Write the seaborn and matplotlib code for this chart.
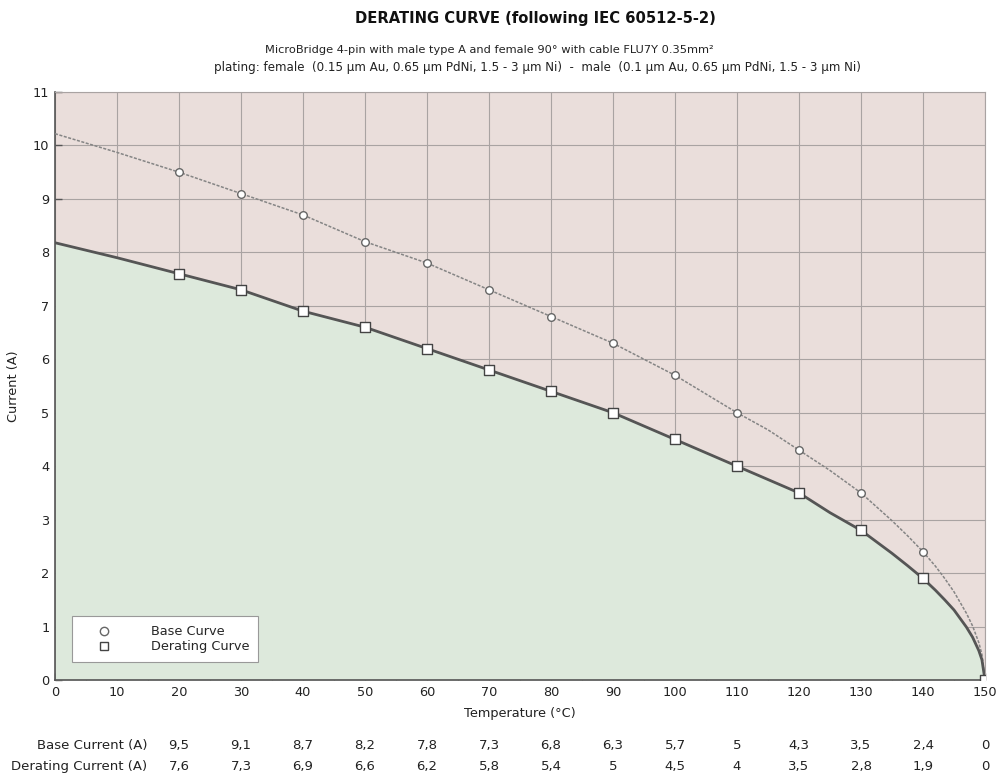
import matplotlib
matplotlib.use("Agg")
import matplotlib.pyplot as plt
import seaborn as sns
import pandas as pd
from matplotlib.lines import Line2D
from matplotlib.ticker import MultipleLocator
import matplotlib.transforms as mtransforms

# --- data ---
temps = [20, 30, 40, 50, 60, 70, 80, 90, 100, 110, 120, 130, 140, 150]
base_current = [9.5, 9.1, 8.7, 8.2, 7.8, 7.3, 6.8, 6.3, 5.7, 5.0, 4.3, 3.5, 2.4, 0.0]
derating_current = [7.6, 7.3, 6.9, 6.6, 6.2, 5.8, 5.4, 5.0, 4.5, 4.0, 3.5, 2.8, 1.9, 0.0]

# smooth curves
curve_t = [0, 10, 20, 30, 40, 50, 60, 70, 80, 90, 100, 110, 115, 120, 125, 130, 135, 137.5, 140, 142, 143.5, 145, 147, 148, 149, 149.5, 150]
curve_base = [10.22, 9.87, 9.5, 9.1, 8.7, 8.2, 7.8, 7.3, 6.8, 6.3, 5.7, 5.0, 4.68, 4.3, 3.92, 3.5, 2.98, 2.70, 2.4, 2.13, 1.90, 1.65, 1.25, 1.01, 0.70, 0.48, 0.0]
curve_der = [8.18, 7.9, 7.6, 7.3, 6.9, 6.6, 6.2, 5.8, 5.4, 5.0, 4.5, 4.0, 3.75, 3.5, 3.13, 2.8, 2.37, 2.14, 1.9, 1.68, 1.50, 1.31, 0.99, 0.80, 0.55, 0.38, 0.0]

title = "DERATING CURVE (following IEC 60512-5-2)"
subtitle1 = "MicroBridge 4-pin with male type A and female 90° with cable FLU7Y 0.35mm²"
subtitle2 = "plating: female  (0.15 µm Au, 0.65 µm PdNi, 1.5 - 3 µm Ni)  -  male  (0.1 µm Au, 0.65 µm PdNi, 1.5 - 3 µm Ni)"

sns.set_theme(style="white")
plt.rcParams['font.family'] = ['DejaVu Sans']

fig = plt.figure(figsize=(9.96, 7.77), dpi=100)
ax = fig.add_axes([55/996, 1-680/777, 930/996, 588/777])

pink = "#eadedb"
green = "#dde9dc"
ax.set_facecolor(pink)

curves = pd.DataFrame({"t": curve_t, "base": curve_base, "der": curve_der})
pts = pd.DataFrame({"t": temps, "base": base_current, "der": derating_current})

ax.fill_between(curves["t"], 0, curves["der"], color=green, zorder=1, lw=0)

sns.lineplot(data=curves, x="t", y="base", ax=ax, color="#858585", lw=1.1,
             linestyle=(0, (2.0, 1.0)), zorder=3, sort=False)
sns.lineplot(data=curves, x="t", y="der", ax=ax, color="#555555", lw=2.0,
             zorder=3, sort=False)
sns.scatterplot(data=pts, x="t", y="base", ax=ax, marker="o", s=30,
                facecolor="white", edgecolor="#666666", linewidth=1.0, zorder=5)
sns.scatterplot(data=pts, x="t", y="der", ax=ax, marker="s", s=50,
                facecolor="white", edgecolor="#444444", linewidth=1.0, zorder=5)

ax.set_xlim(0, 150)
ax.set_ylim(0, 11)
ax.xaxis.set_major_locator(MultipleLocator(10))
ax.xaxis.set_minor_locator(MultipleLocator(5))
ax.yaxis.set_major_locator(MultipleLocator(1))
ax.grid(True, which="major", color="#a9a3a2", lw=0.8, zorder=2)
for l in ax.get_xgridlines() + ax.get_ygridlines():
    l.set_zorder(2)

ax.tick_params(axis="both", which="major", direction="in", length=5, width=1,
               color="#555555", labelsize=9.3, labelcolor="#222222", pad=4)
ax.tick_params(axis="x", which="minor", direction="in", length=2.5, width=0.8,
               color="#555555")
ax.tick_params(bottom=True, left=True, which="both")
ax.tick_params(axis="y", which="minor", left=False)

for side in ["top", "right"]:
    ax.spines[side].set_color("#a9a3a2")
    ax.spines[side].set_linewidth(0.8)
for side in ["left", "bottom"]:
    ax.spines[side].set_color("#555555")
    ax.spines[side].set_linewidth(1.2)

ax.set_xlabel("Temperature (°C)", fontsize=9.3, color="#222222", labelpad=6)
ax.set_ylabel("Current (A)", fontsize=9.3, color="#222222", labelpad=9)

# legend
handles = [
    Line2D([], [], linestyle="none", marker="o", markersize=6,
           markerfacecolor="white", markeredgecolor="#666666", label="Base Curve"),
    Line2D([], [], linestyle="none", marker="s", markersize=6,
           markerfacecolor="white", markeredgecolor="#444444", label="Derating Curve"),
]
leg = ax.legend(handles=handles, loc="lower left", bbox_to_anchor=(0.018, 0.03),
                frameon=True, fancybox=False, fontsize=9.3, borderpad=0.7,
                handletextpad=1.8, labelspacing=0.15, borderaxespad=0,
                handlelength=3.6)
leg.get_frame().set_edgecolor("#999999")
leg.get_frame().set_facecolor("white")
leg.get_frame().set_alpha(1)
leg.get_frame().set_linewidth(0.8)
leg.set_zorder(10)

# titles
fig.text(535/996, 1-18/777, title, ha="center", va="center", fontsize=10.6,
         fontweight="bold", color="#111111")
fig.text(489/996, 1-50/777, subtitle1, ha="center", va="center", fontsize=8.2,
         color="#222222")
fig.text(537/996, 1-68/777, subtitle2, ha="center", va="center", fontsize=8.6,
         color="#222222")

# value table below the chart
trans = mtransforms.blended_transform_factory(ax.transData, fig.transFigure)
def fmt(v):
    return ("%g" % v).replace(".", ",")
y1 = 1-749/777
y2 = 1-770/777
fig.text(147/996, y1, "Base Current (A)", ha="right", va="baseline", fontsize=9.5, color="#222222")
fig.text(147/996, y2, "Derating Current (A)", ha="right", va="baseline", fontsize=9.5, color="#222222")
for t, b, d in zip(temps, base_current, derating_current):
    ax.text(t, y1, fmt(b), transform=trans, ha="center", va="baseline", fontsize=9.5, color="#222222")
    ax.text(t, y2, fmt(d), transform=trans, ha="center", va="baseline", fontsize=9.5, color="#222222")

fig.savefig("out.png", dpi=100, facecolor="white")
